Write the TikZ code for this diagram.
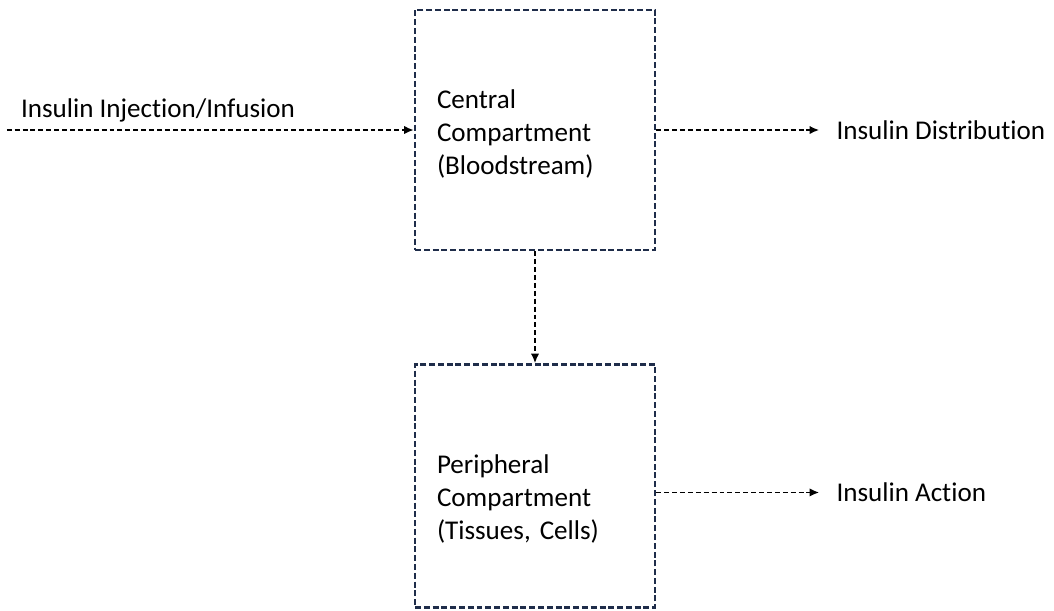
\documentclass[tikz,border=0pt]{standalone}
\usepackage{fontspec}
\setmainfont{Carlito}[Ligatures=NoCommon]
\usetikzlibrary{arrows.meta}
\usetikzlibrary{positioning}
\definecolor{boxnavy}{HTML}{1F2D4A}
\frenchspacing

\begin{document}
\begin{tikzpicture}[
		txt/.style={font=\fontsize{15.4pt}{18.7pt}\selectfont},
		comp/.style={draw=boxnavy,line width=1.4pt,dash pattern=on 3.4pt off 1.6pt,rectangle,
			minimum width=4.8cm,minimum height=4.8cm,inner sep=0pt,text width=3.92cm,align=left,txt},
		flow/.style={draw=black,line width=1.05pt,dash pattern=on 2.8pt off 1.7pt,-{Latex[length=5.5pt,width=4.8pt]}},
		lbl/.style={inner sep=0pt,txt}]
		\useasboundingbox (0,0) rectangle (21.08,-12.2);
		\node (central) [comp,text height=15pt] at (10.7,-2.6) {Central\\Compartment\\(Bloodstream)};
		\node (periph) [comp,below=2.24cm of central,minimum height=4.86cm,text height=25.8pt] {Peripheral\\Compartment\\(Tissues, Cells)};
		% in and out
		\coordinate [left=8.14cm of central.west] (injstart);
		\coordinate [right=3.26cm of central.east] (distend);
		\coordinate [below=0.13cm of periph.east] (actstart);
		\coordinate [right=3.26cm of actstart] (actend);
		\draw [flow] (injstart) -- (central.west);
		\draw [flow] (central.east) -- (distend);
		\draw [flow] (central.south) -- (periph.north);
		\draw [flow] (actstart) -- (actend);
		\node (inj) [lbl,above right=0.26cm and 0.28cm of injstart,anchor=base west] {Insulin Injection/Infusion};
		\node (dist) [lbl,right=0.34cm of distend,anchor=west] {Insulin Distribution};
		\node (act) [lbl,right=0.34cm of actend,anchor=west] {Insulin Action};
	\end{tikzpicture}
\end{document}
